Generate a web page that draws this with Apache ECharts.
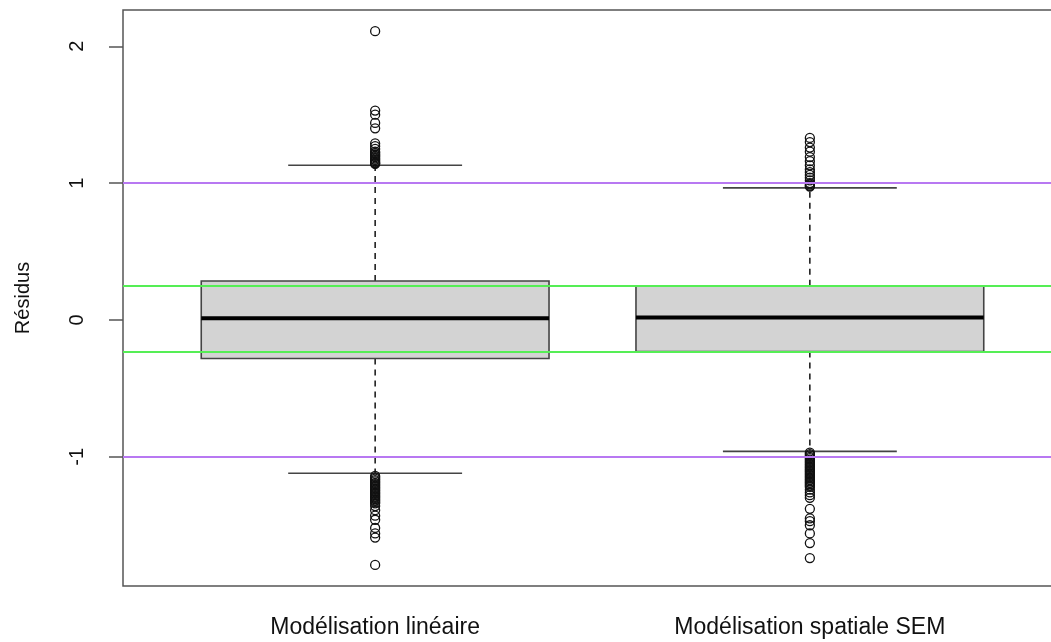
<!DOCTYPE html>
<html>
<head>
<meta charset="utf-8">
<script src="https://cdn.jsdelivr.net/npm/echarts@6/dist/echarts.min.js"></script>
<style>
html,body{margin:0;padding:0;background:#fff;}
#chart{width:1051px;height:642px;}
</style>
</head>
<body>
<div id="chart"></div>
<script>
const categories = ['Modélisation linéaire', 'Modélisation spatiale SEM'];
const positions = [1, 2];
const whiskerLow = [-1.12, -0.96];
const q1 = [-0.282, -0.23];
const median = [0.013, 0.018];
const q3 = [0.285, 0.25];
const whiskerHigh = [1.13, 0.965];
const outliersLinear = [2.11, 1.53, 1.50, 1.44, 1.40, 1.29, 1.27, 1.25, 1.23, 1.22, 1.21, 1.20, 1.19, 1.18, 1.17, 1.16, 1.15, 1.145, 1.14,
  -1.14, -1.15, -1.16, -1.17, -1.18, -1.19, -1.20, -1.21, -1.22, -1.23, -1.24, -1.25, -1.26, -1.27, -1.28, -1.29, -1.30, -1.31, -1.32, -1.33, -1.34, -1.36, -1.39, -1.43, -1.46, -1.52, -1.56, -1.59, -1.79];
const outliersSEM = [1.33, 1.30, 1.26, 1.23, 1.19, 1.16, 1.13, 1.10, 1.08, 1.06, 1.04, 1.02, 1.00, 0.99, 0.98, 0.975,
  -0.97, -0.98, -0.99, -1.00, -1.01, -1.02, -1.03, -1.04, -1.05, -1.06, -1.07, -1.08, -1.09, -1.10, -1.11, -1.12, -1.13, -1.14, -1.15, -1.16, -1.17, -1.18, -1.19, -1.20, -1.21, -1.22, -1.24, -1.26, -1.28, -1.30, -1.38, -1.45, -1.47, -1.50, -1.56, -1.63, -1.74];
const purpleLines = [1, -1];
const greenLines = [0.25, -0.23];
const yTicks = [-1, 0, 1, 2];
const yAxisName = 'Résidus';

const boxData = positions.map((p, i) => [p, whiskerLow[i], q1[i], median[i], q3[i], whiskerHigh[i]]);
const outlierData = [];
outliersLinear.forEach(v => outlierData.push([positions[0], v]));
outliersSEM.forEach(v => outlierData.push([positions[1], v]));

const chart = echarts.init(document.getElementById('chart'), null, {renderer: 'canvas'});
const font = 'Liberation Sans, Arial, sans-serif';
chart.setOption({
  animation: false,
  backgroundColor: '#fff',
  grid: {left: 123, top: 10, width: 939, height: 576, outerBoundsMode: 'none', containLabel: false,
    show: true, borderColor: '#555', borderWidth: 1.5, backgroundColor: 'transparent'},
  xAxis: {
    type: 'value', min: 0.42, max: 2.58,
    splitLine: {show: false},
    axisLine: {show: false},
    axisTick: {show: true, length: 14, lineStyle: {color: '#555', width: 1.5}, customValues: positions},
    axisLabel: {show: true, customValues: positions, margin: 30, fontSize: 23, color: '#111', fontFamily: font,
      formatter: v => categories[positions.indexOf(v)] || ''}
  },
  yAxis: {
    type: 'value', min: -1.944, max: 2.265,
    name: yAxisName, nameLocation: 'middle', nameGap: 90,
    nameTextStyle: {fontSize: 20, color: '#111', fontFamily: font},
    splitLine: {show: false},
    axisLine: {show: false},
    axisTick: {show: true, length: 14, lineStyle: {color: '#555', width: 1.5}, customValues: yTicks},
    axisLabel: {show: true, customValues: yTicks, rotate: 90, margin: 36, fontSize: 20, color: '#111', fontFamily: font}
  },
  series: [
    {
      type: 'custom',
      silent: true,
      z: 2,
      data: boxData,
      encode: {x: 0, y: [1, 2, 3, 4, 5]},
      renderItem: function (params, api) {
        const x = api.value(0);
        const lo = api.coord([x, api.value(1)]);
        const b1 = api.coord([x, api.value(2)]);
        const md = api.coord([x, api.value(3)]);
        const b3 = api.coord([x, api.value(4)]);
        const hi = api.coord([x, api.value(5)]);
        const halfBox = api.size([0.4, 0])[0];
        const halfCap = api.size([0.2, 0])[0];
        const cx = lo[0];
        const dash = {stroke: '#000', lineWidth: 1.4, lineDash: [6, 5]};
        const solid = {stroke: '#444', lineWidth: 1.6};
        return {
          type: 'group',
          children: [
            {type: 'line', shape: {x1: cx, y1: b3[1], x2: cx, y2: hi[1]}, style: dash},
            {type: 'line', shape: {x1: cx, y1: b1[1], x2: cx, y2: lo[1]}, style: dash},
            {type: 'line', shape: {x1: cx - halfCap, y1: hi[1], x2: cx + halfCap, y2: hi[1]}, style: solid},
            {type: 'line', shape: {x1: cx - halfCap, y1: lo[1], x2: cx + halfCap, y2: lo[1]}, style: solid},
            {type: 'rect', shape: {x: cx - halfBox, y: b3[1], width: 2 * halfBox, height: b1[1] - b3[1]},
              style: {fill: '#d3d3d3', stroke: '#444', lineWidth: 1.6}},
            {type: 'line', shape: {x1: cx - halfBox, y1: md[1], x2: cx + halfBox, y2: md[1]},
              style: {stroke: '#000', lineWidth: 4}}
          ]
        };
      }
    },
    {
      type: 'scatter',
      silent: true,
      z: 3,
      data: outlierData,
      symbol: 'circle',
      symbolSize: 9,
      itemStyle: {color: 'rgba(0,0,0,0)', borderColor: '#111', borderWidth: 1.3, opacity: 1}
    },
    {
      type: 'line',
      silent: true,
      z: 4,
      data: [],
      markLine: {
        silent: true,
        symbol: 'none',
        label: {show: false},
        animation: false,
        data: purpleLines.map(v => ({yAxis: v, lineStyle: {color: '#b878f2', width: 2, type: 'solid'}}))
          .concat(greenLines.map(v => ({yAxis: v, lineStyle: {color: '#55ee55', width: 2, type: 'solid'}})))
      }
    }
  ]
});
</script>
</body>
</html>
